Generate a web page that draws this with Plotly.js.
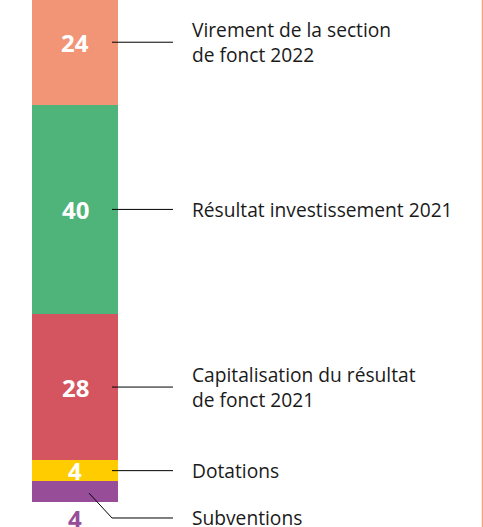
<!DOCTYPE html>
<html>
<head>
<meta charset="utf-8">
<script src="https://cdn.plot.ly/plotly-3.0.1.min.js"></script>
<style>
  html, body { margin: 0; padding: 0; background: #fff; }
  #chart { width: 483px; height: 527px; }
</style>
</head>
<body>
<div id="chart"></div>
<script>
// Data (stacked from bottom to top)
const category = 'Recettes';
const labels = ['Subventions', 'Dotations', 'Capitalisation du résultat<br>de fonct 2021', 'Résultat investissement 2021', 'Virement de la section<br>de fonct 2022'];
const values = [4, 4, 28, 40, 24];
const colors = ['#974d97', '#ffcc00', '#d45560', '#4fb479', '#f29577'];
const valueColors = ['#974d97', '#ffffff', '#ffffff', '#ffffff', '#ffffff'];

const FONT = 'Open Sans, Noto Sans, sans-serif';
const traces = values.map((v, i) => ({
  type: 'bar',
  x: [category],
  y: [v],
  width: 1,
  marker: { color: colors[i], line: { width: 0 } },
  hoverinfo: 'skip',
  showlegend: false
}));

// cumulative centers
const centers = [];
let acc = 0;
values.forEach(v => { centers.push(acc + v / 2); acc += v; });

const annotations = [];
const shapes = [];
const xLeadStart = 112 / 483, xLeadEnd = 173 / 483, xText = 190 / 483;

values.forEach((v, i) => {
  const outside = i === 0;
  annotations.push({
    x: category, xref: 'x',
    y: outside ? 0 : centers[i], yref: 'y',
    yshift: outside ? -16 : 0,
    text: String(v), showarrow: false,
    xanchor: 'center', yanchor: 'middle',
    font: { family: FONT, size: 24, color: valueColors[i], weight: 700 }
  });
  const ly = outside ? -3.06 : centers[i];
  annotations.push({
    x: xText, xref: 'paper', y: ly, yref: 'y',
    text: labels[i], showarrow: false, align: 'left',
    xanchor: 'left', yanchor: 'middle',
    font: { family: FONT, size: 19.2, color: '#1a1a1a' }
  });
  if (outside) {
    shapes.push({
      type: 'path', xref: 'paper', yref: 'y',
      path: `M ${89/483} ${centers[i] - 0.3} L ${xLeadStart} ${ly} L ${xLeadEnd} ${ly}`,
      line: { color: '#000', width: 1 }
    });
  } else {
    shapes.push({
      type: 'line', xref: 'paper', yref: 'y',
      x0: xLeadStart, x1: xLeadEnd, y0: ly, y1: ly,
      line: { color: '#000', width: 1 }
    });
  }
});

// right border line
shapes.push({ type: 'line', xref: 'paper', yref: 'paper', x0: 482.5/483, x1: 482.5/483, y0: 0, y1: 1,
  line: { color: '#f4a07f', width: 1.5 } });

const layout = {
  width: 483, height: 527,
  margin: { l: 0, r: 0, t: 0, b: 0 },
  paper_bgcolor: '#fff', plot_bgcolor: '#fff',
  barmode: 'stack', bargap: 0,
  xaxis: { type: 'category', range: [-0.872, 4.744], visible: false, fixedrange: true },
  yaxis: { range: [-4.785, 96.08], visible: false, fixedrange: true },
  annotations, shapes,
  showlegend: false
};

Plotly.newPlot('chart', traces, layout, { displayModeBar: false, staticPlot: true });
</script>
</body>
</html>
